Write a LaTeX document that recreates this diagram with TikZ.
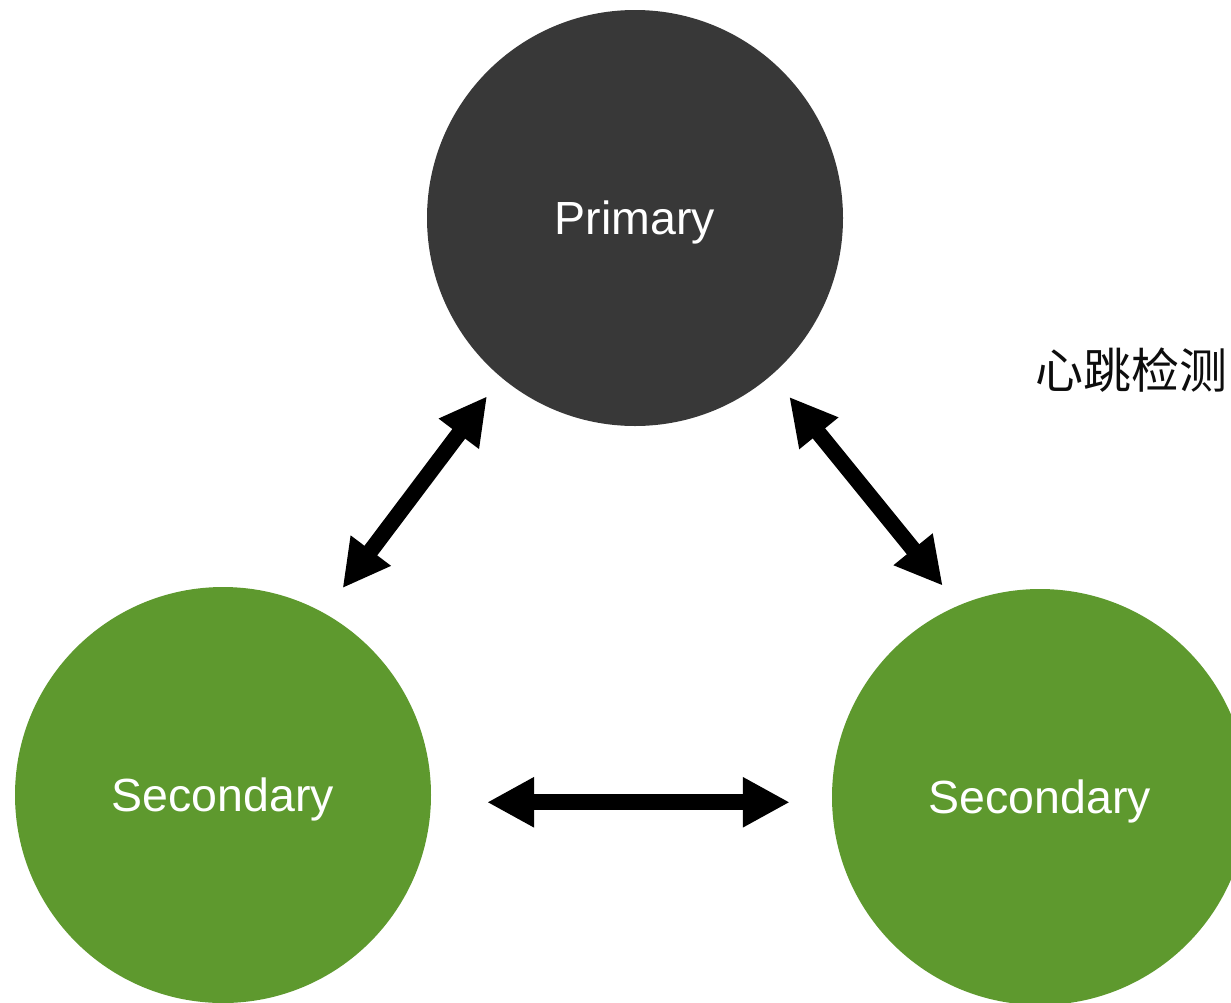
\documentclass[tikz,border=0pt]{standalone}
\usepackage{fontspec}
\setmainfont{Liberation Sans}
\newfontfamily\cjk{Noto Sans CJK SC}
\usetikzlibrary{arrows.meta}
\definecolor{primgray}{HTML}{383838}
\definecolor{secgreen}{HTML}{5E992E}
\begin{document}
\begin{tikzpicture}[x=1pt,y=-1pt,
  member/.style={circle, minimum size=416pt, inner sep=0pt, text=white,
    text depth=0pt, font=\fontsize{46.5}{56}\selectfont},
  link/.style={line width=16pt,
    {Triangle[length=47pt,width=47pt]}-{Triangle[length=47pt,width=47pt]}}]
\useasboundingbox (0,0) rectangle (1231,1002);
\clip (0,0) rectangle (1231,1002);
\fill[white] (0,0) rectangle (1231,1002);
\node[member, fill=primgray] (P) at (635,218) {Primary};
\node[member, fill=secgreen] (sL) at (223,795) {Secondary};
\node[member, fill=secgreen] (sR) at (1040,797) {Secondary};
\node[font=\cjk\fontsize{48}{58}\selectfont, text=black!95] (hb) at (1131,370) {心跳检测};
\draw[link, shorten <=31pt, shorten >=23.5pt] (sL.61.9) -- (P.230);
\draw[link, shorten <=28pt, shorten >=25.3pt] (P.311.4) -- (sR.113.9);
\draw[link, shorten <=56pt, shorten >=42pt] (sL.-2.76) -- (sL.-2.76 -| sR.west);
\end{tikzpicture}
\end{document}
